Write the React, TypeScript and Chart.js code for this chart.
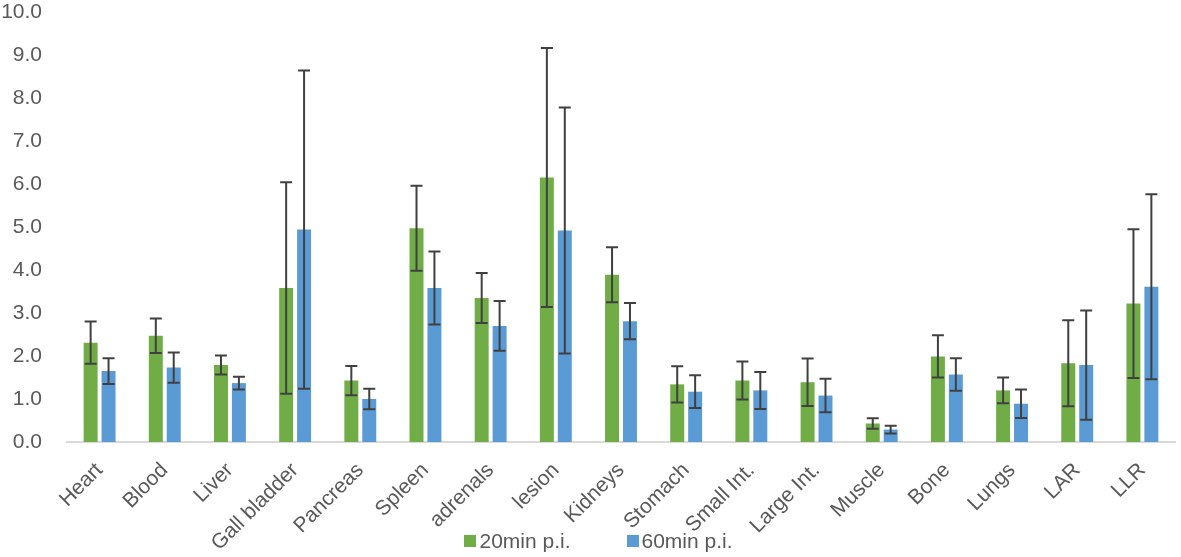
import { useEffect, useRef } from "react";
import { Chart, registerables } from "chart.js";

Chart.register(...registerables);

const organs = [
  "Heart",
  "Blood",
  "Liver",
  "Gall bladder",
  "Pancreas",
  "Spleen",
  "adrenals",
  "lesion",
  "Kidneys",
  "Stomach",
  "Small Int.",
  "Large Int.",
  "Muscle",
  "Bone",
  "Lungs",
  "LAR",
  "LLR",
];

// 20min p.i.
const mean20 = [2.31, 2.47, 1.79, 3.58, 1.43, 4.97, 3.35, 6.15, 3.89, 1.34, 1.43, 1.39, 0.43, 1.99, 1.2, 1.83, 3.22];
const sd20 = [0.49, 0.4, 0.22, 2.46, 0.34, 0.99, 0.58, 3.01, 0.64, 0.42, 0.44, 0.55, 0.12, 0.49, 0.3, 1.0, 1.73];

// 60min p.i.
const mean60 = [1.65, 1.73, 1.37, 4.94, 1.0, 3.58, 2.7, 4.92, 2.81, 1.17, 1.2, 1.08, 0.29, 1.57, 0.89, 1.79, 3.61];
const sd60 = [0.3, 0.35, 0.15, 3.7, 0.24, 0.85, 0.58, 2.86, 0.42, 0.38, 0.43, 0.39, 0.09, 0.38, 0.33, 1.27, 2.15];

const seriesNames = ["20min p.i.", "60min p.i."];
const seriesColors = ["#70AD47", "#5B9BD5"];
const errors = [sd20, sd60];

// draws the +/- sd whiskers on top of each bar
const errorBars = {
  id: "errorBars",
  afterDatasetsDraw(chart: Chart) {
    const ctx = chart.ctx;
    const y = chart.scales.y;
    ctx.save();
    ctx.strokeStyle = "#404040";
    ctx.lineWidth = 2;
    chart.data.datasets.forEach((ds, i) => {
      const meta = chart.getDatasetMeta(i);
      if (meta.hidden) return;
      meta.data.forEach((bar: any, j: number) => {
        const v = ds.data[j] as number;
        const e = errors[i][j];
        const top = y.getPixelForValue(v + e);
        const bottom = y.getPixelForValue(v - e);
        const x = bar.x;
        const cap = 6;
        ctx.beginPath();
        ctx.moveTo(x, top);
        ctx.lineTo(x, bottom);
        ctx.moveTo(x - cap, top);
        ctx.lineTo(x + cap, top);
        ctx.moveTo(x - cap, bottom);
        ctx.lineTo(x + cap, bottom);
        ctx.stroke();
      });
    });
    ctx.restore();
  },
};

export default function App() {
  const canvasRef = useRef<HTMLCanvasElement | null>(null);
  const chartRef = useRef<Chart | null>(null);

  useEffect(() => {
    document.body.style.margin = "0";
    Chart.defaults.font.family = "'Liberation Sans', Arial, sans-serif";
    Chart.defaults.font.size = 21;
    Chart.defaults.color = "#595959";

    const ctx = canvasRef.current?.getContext("2d");
    if (!ctx) return;

    chartRef.current = new Chart(ctx, {
      type: "bar",
      data: {
        labels: organs,
        datasets: [
          {
            label: seriesNames[0],
            data: mean20,
            backgroundColor: seriesColors[0],
            categoryPercentage: 0.55,
            barPercentage: 0.78,
          },
          {
            label: seriesNames[1],
            data: mean60,
            backgroundColor: seriesColors[1],
            categoryPercentage: 0.55,
            barPercentage: 0.78,
          },
        ],
      },
      options: {
        animation: false,
        responsive: false,
        layout: { padding: { top: 0, right: 6, left: 0, bottom: 0 } },
        scales: {
          x: {
            grid: { display: false, drawTicks: false },
            border: { color: "#D9D9D9", width: 2 },
            ticks: { minRotation: 45, maxRotation: 45, padding: 16, autoSkip: false },
            afterFit: (s: any) => {
              s.height = 115;
            },
          },
          y: {
            min: 0,
            max: 10,
            grid: { display: false, drawTicks: false },
            border: { display: false },
            ticks: {
              stepSize: 1,
              padding: 25,
              callback: (v) => Number(v).toFixed(1),
            },
            afterFit: (s: any) => {
              s.width = 67;
              // the label gap should not push the plot down
              s.paddingTop = 12;
              s.paddingBottom = 12;
            },
          },
        },
        plugins: {
          legend: { display: false },
          tooltip: { enabled: false },
        },
      },
      plugins: [errorBars],
    });

    return () => {
      chartRef.current?.destroy();
    };
  }, []);

  return (
    <div style={{ position: "relative", width: 1181, height: 557 }}>
      <canvas ref={canvasRef} width={1181} height={557} />
      <div
        style={{
          position: "absolute",
          left: 0,
          right: 0,
          top: 528,
          display: "flex",
          justifyContent: "center",
          gap: 56,
          paddingLeft: 16,
          fontFamily: "'Liberation Sans', Arial, sans-serif",
          fontSize: 21,
          color: "#595959",
          lineHeight: "26px",
        }}
      >
        {seriesNames.map((name, i) => (
          <span key={name} style={{ display: "flex", alignItems: "center" }}>
            <span
              style={{
                display: "inline-block",
                width: 12,
                height: 12,
                background: seriesColors[i],
                marginRight: 3,
              }}
            />
            {name}
          </span>
        ))}
      </div>
    </div>
  );
}
